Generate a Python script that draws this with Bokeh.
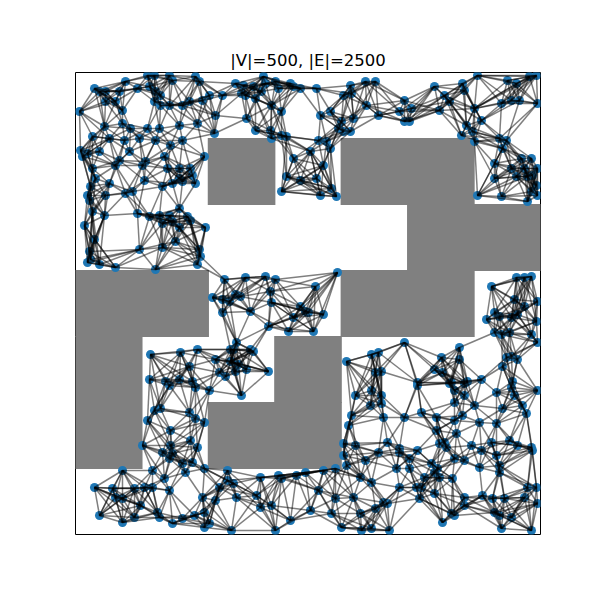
import numpy as np
from bokeh.plotting import figure
from bokeh.models import Range1d
from bokeh.embed import file_html
from bokeh.resources import INLINE

title_text = "|V|=500, |E|=2500"

# World extent (width, height) and obstacle rectangles in grid-cell units (7 x 7 grid)
world_w = 465.0
world_h = 462.0
grid_n = 7
obstacle_c0 = [2, 4, 5, 4, 0, 0, 3, 2]
obstacle_c1 = [3, 6, 7, 6, 2, 1, 4, 4]
obstacle_r0 = [5, 5, 4, 3, 3, 1, 2, 1]
obstacle_r1 = [6, 6, 5, 4, 4, 3, 3, 2]

# Node positions
node_x = [
    50,72,79,94,97,120,124,19,24,30, 44,62,74,80,85,4,30,40,47,79,
    85,94,107,114,127,134,147,140,29,47, 55,72,84,104,122,139,17,34,49,64,
    80,95,107,5,7,12,24,44,54,70, 89,129,17,40,67,92,104,115,117,120,
    104,15,20,34,57,69,87,97,107,12, 14,30,50,17,29,62,74,84,94,97,
    104,112,115,87,130,9,
    160,168,166,178,188,190,200,203,215,218, 225,241,186,180,170,196,206,171,180,195,
    196,206,211,245,255,243,251,255,235,218, 248,211,225,241,206,245,256,261,268,275,
    276,290,300,291,303,266,268,275,278,263,
    402,432,441,454,461,329,324,336,329,334, 359,369,374,387,389,364,399,426,436,444,
    462,406,391,386,397,399,424,431,427,446, 456,419,436,449,462,419,441,452,457,461,
    456,462,402,426,452,
    19,14,12,15,24,40,64,80,87,104, 100,124,125,122,149,137,147,154,147,75,
    105,122,114,140,155,155,144,150,74,90, 104,117,
    170,190,200,195,196,165,160,175,193,213, 218,225,230,233,238,248,240,262,161,158,
    175,178,156,163,171,160,193,271,296,303, 300,306,
    416,441,449,456,439,449,462,411,419,424, 436,442,461,419,426,434,329,384,366,384,
    359,367,456,462,431,436,442,427,342,376, 392,406,437,
    94,120,134,79,72,85,114,120,129,95, 67,95,122,87,97,94,115,47,77,107,
    117,129,110,152,89,69,59,94,77,19, 37,40,47,65,24,47,59,82,84,97,
    107,119,129,134,127,140,144,152,129,
    166,280,296,306,295,306,276,273,308,268, 280,268,271,290,303,285,296,185,203,206,
    221,230,248,260,158,161,181,185,196,243, 260,278,235,256,285,300,308,215,200,266,
    286,296,156,
    342,374,379,389,436,439,462,421,399,379, 389,447,451,427,329,346,361,361,379,387,
    381,404,421,312,324,324,342,334,321,334, 364,369,371,379,389,396,406,416,434,442,
    456,457,421,424,424,404,356,362,359,364, 349,346,341,344,324,377,359,312,389,407,
    417,429,452,461,449,462,389,376,379,367, 419,424,436,426,456,314,
]
node_y = [
    453,459,459,459,454,458,453,446,443,443, 443,446,448,443,439,423,433,433,424,433,
    429,429,429,433,434,439,439,419,408,411, 406,406,406,409,411,401,398,396,394,396,
    394,389,394,384,378,381,383,374,383,373, 378,378,366,369,369,366,366,366,359,351,
    356,348,356,351,343,354,348,351,353,339, 334,339,341,323,319,321,318,319,319,313,
    326,318,314,311,307,309,
    451,449,441,448,458,451,453,446,451,448, 446,446,443,436,439,429,423,416,404,404,
    396,399,398,419,423,394,393,386,383,376, 369,358,354,356,343,339,346,338,439,449,
    441,453,453,429,419,413,403,403,416,406,
    459,454,451,458,459,434,423,426,413,413, 448,439,433,451,444,424,426,431,434,434,
    431,414,409,399,403,393,396,394,386,376, 376,371,366,366,366,356,358,358,359,349,
    343,339,339,338,333,
    295,283,272,275,270,267,285,265,287,307, 293,285,278,270,255,237,235,233,222,180,
    182,185,168,175,185,173,162,158,155,153, 155,153,
    257,258,255,243,232,238,240,223,208,203, 217,228,223,222,203,220,248,262,192,185,
    185,183,173,170,165,163,163,173,180,182, 162,163,
    248,257,257,258,235,228,233,215,222,218, 217,220,213,202,200,202,192,187,177,175,
    165,162,200,192,177,178,175,168,152,152, 153,155,153,
    149,147,144,124,114,126,122,116,112,104, 89,89,87,82,81,76,94,64,64,71,
    72,66,62,64,56,47,46,44,47,47, 46,37,36,29,19,12,17,22,17,11,
    16,19,22,11,37,34,47,54,7,
    139,139,144,139,129,131,119,109,117,91, 89,79,69,74,82,57,52,57,59,56,
    59,62,64,66,51,37,39,27,29,44, 36,37,24,21,21,26,32,14,4,7,
    4,6,4,
    149,151,144,151,147,139,144,142,129,132, 139,129,121,126,117,122,117,104,114,119,
    101,112,111,92,86,82,84,76,66,66, 91,92,87,76,74,89,84,92,94,89,
    87,84,79,69,62,67,71,66,62,57, 57,47,47,36,47,56,41,31,37,39,
    36,36,47,47,37,31,29,21,19,12, 22,19,17,6,4,4,
]
neighbours_per_node = 9

cw = world_w / grid_n
ch = world_h / grid_n
ob_l = [c * cw for c in obstacle_c0]
ob_r = [c * cw for c in obstacle_c1]
ob_b = [r * ch for r in obstacle_r0]
ob_t = [r * ch for r in obstacle_r1]


def hits(x0, y0, x1, y1):
    dx, dy = x1 - x0, y1 - y0
    for l, r, b, t in zip(ob_l, ob_r, ob_b, ob_t):
        t0, t1 = 0.0, 1.0
        ok = True
        for pp, qq in ((-dx, x0 - (l + 1)), (dx, (r - 1) - x0),
                       (-dy, y0 - (b + 1)), (dy, (t - 1) - y0)):
            if pp == 0:
                if qq < 0:
                    ok = False
                    break
            else:
                u = qq / pp
                if pp < 0:
                    t0 = max(t0, u)
                else:
                    t1 = min(t1, u)
                if t0 > t1:
                    ok = False
                    break
        if ok:
            return True
    return False


X = np.array(node_x, float)
Y = np.array(node_y, float)
n = len(X)
edges = set()
for i in range(n):
    d = np.hypot(X - X[i], Y - Y[i])
    order = np.argsort(d)
    cnt = 0
    for j in order[1:]:
        if cnt >= neighbours_per_node:
            break
        if hits(X[i], Y[i], X[j], Y[j]):
            continue
        edges.add((min(i, j), max(i, j)))
        cnt += 1

edges = sorted(edges)
xs = [[X[a], X[b]] for a, b in edges]
ys = [[Y[a], Y[b]] for a, b in edges]

p = figure(width=600, height=600, output_backend="svg", toolbar_location=None,
           x_range=Range1d(0, world_w), y_range=Range1d(0, world_h),
           min_border_left=75, min_border_right=60, min_border_top=72, min_border_bottom=66,
           title=title_text)
p.title.align = "center"
p.title.text_font = "DejaVu Sans"
p.title.text_font_size = "16.5px"
p.title.text_font_style = "normal"
p.title.text_color = "black"
p.title.standoff = 5
p.axis.visible = False
p.grid.visible = False
p.outline_line_color = "black"
p.outline_line_width = 1
p.outline_line_alpha = 1

# slight overlap between adjacent rectangles hides anti-aliasing seams
pad = 0.6
p.quad(left=[v - pad for v in ob_l], right=[v + pad for v in ob_r],
       bottom=[v - pad for v in ob_b], top=[v + pad for v in ob_t],
       fill_color="#808080", line_color=None)
p.scatter(X, Y, size=9, fill_color="#1f77b4", line_color=None)
p.multi_line(xs, ys, line_color="black", line_alpha=0.5, line_width=1.5)

open("out.html", "w").write(file_html(p, INLINE))
